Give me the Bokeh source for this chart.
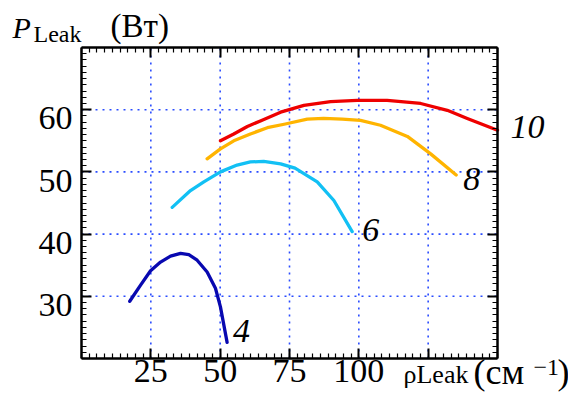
import numpy as np
from bokeh.plotting import figure
from bokeh.models import FixedTicker, LinearAxis, Label, Range1d
from bokeh.embed import file_html
from bokeh.resources import INLINE

# ---- data ----
x_lo, x_hi = 0, 150
y_lo, y_hi = 20, 70
x_ticks = [25, 50, 75, 100, 125]
x_tick_labels = ["25", "50", "75", "100", ""]
y_ticks = [30, 40, 50, 60]
y_tick_labels = ["30", "40", "50", "60"]

x4 = [17.4, 21.3, 24.9, 28.5, 32.1, 35.7, 38.7, 41.7, 45.3, 48.3, 50.1, 52.5]
y4 = [29.2, 31.8, 34.1, 35.5, 36.45, 36.9, 36.7, 35.8, 33.9, 31.3, 28.3, 22.6]

x6 = [32.7, 39.3, 44.1, 50.1, 56.1, 60.9, 65.7, 71.8, 77.0, 85.0, 91.0, 97.6]
y6 = [44.3, 47.0, 48.4, 50.0, 51.1, 51.6, 51.7, 51.3, 50.6, 48.4, 45.4, 40.4]

x8 = [45.3, 50.1, 54.9, 60.9, 67.0, 73.5, 81.4, 87.3, 94.0, 100.6, 107.8, 117.5, 125.9, 135.1]
y8 = [52.1, 53.7, 55.0, 56.1, 57.1, 57.7, 58.5, 58.6, 58.5, 58.3, 57.5, 55.7, 52.9, 49.5]

x10 = [50.1, 54.9, 59.8, 64.5, 71.8, 80.2, 89.8, 99.4, 110.2, 122.3, 131.9, 139.1, 150.0]
y10 = [55.0, 56.1, 57.3, 58.2, 59.6, 60.7, 61.3, 61.5, 61.5, 61.0, 59.9, 58.6, 56.7]

curve_names = ["4", "6", "8", "10"]
curve_colors = ["#0808b0", "#12c0f4", "#ffb400", "#ee0000"]

FONT = "Liberation Serif"
W, H = 568, 396
# plot box inside the canvas (pixels)
BOX_L, BOX_R, BOX_T, BOX_B = 81, 497, 47, 358

sx = (BOX_R - BOX_L) / (x_hi - x_lo)
sy = (BOX_B - BOX_T) / (y_hi - y_lo)
xr = Range1d(x_lo - BOX_L / sx, x_hi + (W - BOX_R) / sx)
yr = Range1d(y_lo - (H - BOX_B) / sy, y_hi + BOX_T / sy)

x_minor = list(np.arange(x_lo, x_hi + 0.001, 25 / 9))
y_minor = list(np.arange(y_lo, y_hi + 0.001, 1))

p = figure(width=W, height=H, x_range=xr, y_range=yr,
           output_backend="svg", toolbar_location=None,
           x_axis_location=None, y_axis_location=None,
           min_border=0, min_border_left=0, min_border_right=0,
           min_border_top=0, min_border_bottom=0)
p.title.visible = False
p.outline_line_color = None
p.background_fill_color = "white"
p.border_fill_color = "white"
p.xgrid.visible = False
p.ygrid.visible = False

# dotted grid inside the box only
grid_style = dict(line_color="#2a4cff", line_dash="2 5", line_width=1.6)
p.segment(x0=x_ticks, x1=x_ticks, y0=[y_lo] * len(x_ticks), y1=[y_hi] * len(x_ticks), **grid_style)
p.segment(x0=[x_lo] * len(y_ticks), x1=[x_hi] * len(y_ticks), y0=y_ticks, y1=y_ticks, **grid_style)


def make_axis(ticks, minor, loc, bounds, labels=None, size="34px"):
    ax = LinearAxis(ticker=FixedTicker(ticks=ticks, minor_ticks=minor),
                    fixed_location=loc, bounds=bounds)
    ax.axis_line_color = "black"
    ax.axis_line_width = 2.5
    ax.major_tick_in = 10
    ax.major_tick_out = 0
    ax.minor_tick_in = 5
    ax.minor_tick_out = 0
    ax.major_tick_line_width = 2
    ax.major_tick_line_color = "black"
    ax.minor_tick_line_width = 1.2
    ax.minor_tick_line_color = "black"
    ax.major_label_text_font = FONT
    ax.major_label_text_color = "black"
    ax.major_label_text_font_size = size
    if labels is None:
        labels = [""] * len(ticks)
    ax.major_label_overrides = {t: s for t, s in zip(ticks, labels)}
    return ax

bottom = make_axis(x_ticks, x_minor, y_lo, (x_lo, x_hi), x_tick_labels)
bottom.major_label_standoff = 1
top = make_axis(x_ticks, x_minor, y_hi, (x_lo, x_hi))
left = make_axis(y_ticks, y_minor, x_lo, (y_lo, y_hi))
right = make_axis(y_ticks, y_minor, x_hi, (y_lo, y_hi))

# tick labels of the y axis sit slightly below their ticks, as in the reference
shift = 1.4
y_label_pos = [round(t - shift, 3) for t in y_ticks]
left_labels = make_axis(y_label_pos, [], x_lo, (y_lo, y_hi), y_tick_labels)
left_labels.axis_line_color = None
left_labels.major_tick_line_color = None
left_labels.minor_tick_line_color = None
left_labels.major_label_standoff = 9

p.add_layout(bottom, "below")
p.add_layout(top, "above")
p.add_layout(left, "left")
p.add_layout(left_labels, "left")
p.add_layout(right, "right")

curves = [(x4, y4), (x6, y6), (x8, y8), (x10, y10)]
label_offsets = [(6, 11), (10, 2), (7, -3.5), (13, 3.5)]
for (xs, ys), col, name, (dx, dy) in zip(curves, curve_colors, curve_names, label_offsets):
    p.line(xs, ys, line_color=col, line_width=3.3, line_join="round", line_cap="round")
    p.add_layout(Label(x=xs[-1], y=ys[-1], x_offset=dx, y_offset=dy, text=name,
                       text_font=FONT, text_font_style="italic", text_font_size="34px",
                       text_baseline="middle", text_align="left", text_color="black"))


def title_label(text, cx, baseline, size_px, style="normal"):
    # cx: canvas px of the left edge, baseline: canvas px from top of the text baseline
    cy = baseline - 0.3375 * size_px
    p.add_layout(Label(x=cx, y=H - cy, x_units="screen", y_units="screen", text=text,
                       text_font=FONT, text_font_size=f"{size_px}px", text_font_style=style,
                       text_baseline="middle", text_align="left", text_color="black"))

# y-axis title
title_label("P", 12, 37, 30, "italic")
title_label("Leak", 33, 42, 24)
title_label("(Вт)", 110, 37, 33)
# x-axis title
title_label("ρLeak", 403, 383, 26)
title_label("(см", 473, 384, 36)
title_label("−1", 533, 375, 24)
title_label(")", 557, 384, 36)

open("out.html", "w").write(file_html(p, INLINE))
